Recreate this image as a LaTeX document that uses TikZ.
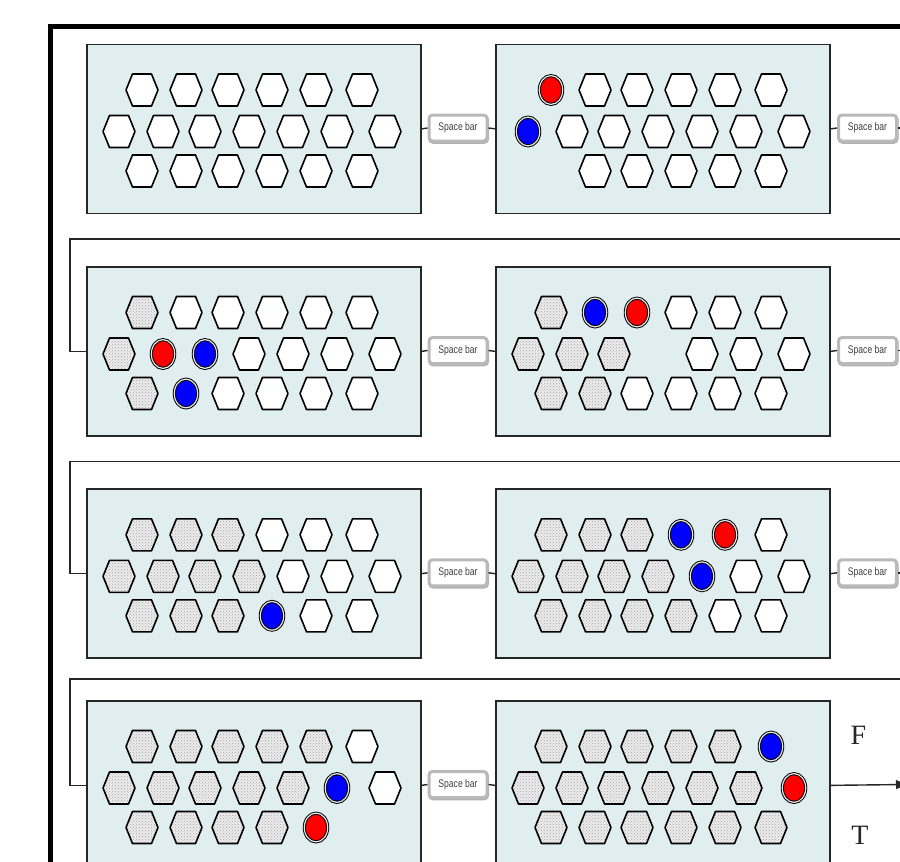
\documentclass[tikz,border=0pt]{standalone}
\usepackage{fontspec}
\setmainfont{Liberation Serif}
\newfontfamily\sbfont[FakeStretch=0.78]{Liberation Sans}
\usetikzlibrary{patterns,arrows.meta}
\definecolor{panelbg}{RGB}{224,238,239}
\definecolor{tokred}{RGB}{255,0,0}
\definecolor{tokblue}{RGB}{0,0,255}
\tikzset{
  panel/.style={draw=black!85, line width=1.7, fill=panelbg, minimum width=334, minimum height=169, anchor=north west, inner sep=0},
  spacebar/.style={preaction={draw=gray!60, fill=gray!60, line width=3, transform canvas={shift={(0.6pt,-1.3pt)}}},
    draw=gray!55, line width=3, fill=white, rounded corners=3.5, minimum width=58, minimum height=26, inner sep=0,
    font=\sbfont\fontsize{11}{13}\selectfont, text=black!75},
  conn/.style={draw=black!85, line width=1.4},
  hexw/.style={draw=black, line width=1.6, fill=white, line join=round},
  hexs/.style={preaction={fill=gray!15}, pattern=crosshatch dots, pattern color=gray!70, draw=black, line width=1.6, line join=round},
  tokr/.style={fill=tokred, draw=black, line width=0.95, double=white!80!gray, double distance=1.2},
  tokb/.style={fill=tokblue, draw=black, line width=0.95, double=white!80!gray, double distance=1.2},
  lbl/.style={font=\fontsize{28}{30}\selectfont, text=black!85, inner sep=0}
}
\newcommand\hexpath[1]{(#1) ++(-16,0) -- ++(6.5,-16) -- ++(19,0) -- ++(6.5,16) -- ++(-6.5,16) -- ++(-19,0) -- cycle}
\newcommand\slotw[1]{\draw[hexw] \hexpath{#1};}
\newcommand\slots[1]{\draw[hexs] \hexpath{#1};}
\newcommand\slotr[1]{\draw[tokr] (#1) ellipse [x radius=11.7, y radius=14.4];}
\newcommand\slotb[1]{\draw[tokb] (#1) ellipse [x radius=11.7, y radius=14.4];}
\newcommand\slote[1]{}
\newcommand\panelrow[5]{%
  \foreach \t [count=\i] in {#4} {
    \pgfmathsetmacro\px{{#5}[\i-1]}
    \coordinate (#1-#2-\i) at ([shift={(\px,#3)}]#1.north west);
    \csname slot\t\endcsname{#1-#2-\i}
  }}
\newcommand\panelall[4]{%
  \panelrow{#1}{a}{46.5}{#2}{56,100,142,186,230,276}
  \panelrow{#1}{b}{88}{#3}{33,77,119,163,207,251,299}
  \panelrow{#1}{c}{127.5}{#4}{56,100,142,186,230,276}}
\begin{document}
\begin{tikzpicture}[x=1pt,y=-1pt]
\useasboundingbox (0,0) rectangle (900,862);
\clip (0,0) rectangle (900,862);
\fill[white] (0,0) rectangle (900,862);
\draw[line width=5] (50.5,26.5) rectangle (980,960);

% panels
\node[panel] (pA) at (86,43.5) {};
\node[panel] (pB) at (495,43.5) {};
\node[panel] (pC) at (86,266) {};
\node[panel] (pD) at (495,266) {};
\node[panel] (pE) at (86,488.3) {};
\node[panel] (pF) at (495,488.3) {};
\node[panel] (pG) at (86,700) {};
\node[panel] (pH) at (495,700) {};

% space bars
\node[spacebar] (s1) at (458,128) {Space bar};
\node[spacebar] (s2) at (867.5,128) {Space bar};
\node[spacebar] (s3) at (458,350.5) {Space bar};
\node[spacebar] (s4) at (867.5,350.5) {Space bar};
\node[spacebar] (s5) at (458,572.8) {Space bar};
\node[spacebar] (s6) at (867.5,572.8) {Space bar};
\node[spacebar] (s7) at (458,784.5) {Space bar};

% connectors
\coordinate (o1) at (915,128);
\coordinate (o2) at (915,350.5);
\coordinate (o3) at (915,572.8);
\coordinate (w1r) at (915,239);   \coordinate (w1l) at (70,239);
\coordinate (w2r) at (915,461.5); \coordinate (w2l) at (70,461.5);
\coordinate (w3r) at (915,679);   \coordinate (w3l) at (70,679);
\coordinate (aend) at (906,784.5);

\draw[conn] (pA.east) -- (s1.west);
\draw[conn] (s1.east) -- (pB.west);
\draw[conn] (pB.east) -- (s2.west);
\draw[conn] (s2.east) -- (o1);
\draw[conn] (w1r) -- (w1l) |- (pC.west);
\draw[conn] (pC.east) -- (s3.west);
\draw[conn] (s3.east) -- (pD.west);
\draw[conn] (pD.east) -- (s4.west);
\draw[conn] (s4.east) -- (o2);
\draw[conn] (w2r) -- (w2l) |- (pE.west);
\draw[conn] (pE.east) -- (s5.west);
\draw[conn] (s5.east) -- (pF.west);
\draw[conn] (pF.east) -- (s6.west);
\draw[conn] (s6.east) -- (o3);
\draw[conn] (w3r) -- (w3l) |- (pG.west);
\draw[conn] (pG.east) -- (s7.west);
\draw[conn] (s7.east) -- (pH.west);
\draw[conn, -{Triangle[length=10,width=9]}] (pH.east) -- (aend);

% labels
\node[lbl] (lF) at (858.5,735) {F};
\node[lbl] (lT) at (860,835.5) {T};

% cells
\panelall{pA}{w,w,w,w,w,w}{w,w,w,w,w,w,w}{w,w,w,w,w,w}
\panelall{pB}{r,w,w,w,w,w}{b,w,w,w,w,w,w}{e,w,w,w,w,w}
\panelall{pC}{s,w,w,w,w,w}{s,r,b,w,w,w,w}{s,b,w,w,w,w}
\panelall{pD}{s,b,r,w,w,w}{s,s,s,e,w,w,w}{s,s,w,w,w,w}
\panelall{pE}{s,s,s,w,w,w}{s,s,s,s,w,w,w}{s,s,s,b,w,w}
\panelall{pF}{s,s,s,b,r,w}{s,s,s,s,b,w,w}{s,s,s,s,w,w}
\panelall{pG}{s,s,s,s,s,w}{s,s,s,s,s,b,w}{s,s,s,s,r,e}
\panelall{pH}{s,s,s,s,s,b}{s,s,s,s,s,s,r}{s,s,s,s,s,s}
\end{tikzpicture}
\end{document}
